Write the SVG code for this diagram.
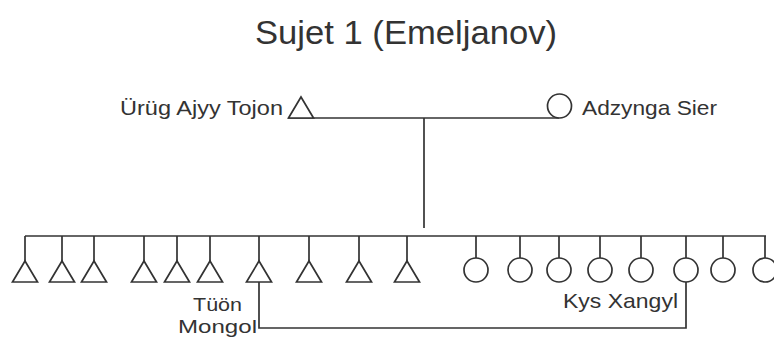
<svg xmlns="http://www.w3.org/2000/svg" width="774" height="341" viewBox="0 0 774 341">
<style>
.s{fill:none;stroke:#333;stroke-width:1.7}
.sh{fill:#fff;stroke:#333;stroke-width:1.7}
text{font-family:"Liberation Sans",Arial,sans-serif;fill:#333}
.lbl{font-size:21px}
.sm{font-size:19px}
</style>
<defs>
<path id="tri" d="M0,-21 L12.5,0 L-12.5,0 Z"/>
</defs>
<rect width="774" height="341" fill="#fff"/>
<text x="255" y="44" font-size="33" textLength="302" lengthAdjust="spacingAndGlyphs">Sujet 1 (Emeljanov)</text>
<g id="connectors" class="s">
<line x1="288" y1="118" x2="559" y2="118"/>
<line x1="424" y1="118" x2="424" y2="228"/>
<line x1="25" y1="236" x2="766" y2="236"/>
<path d="M25,236V261M62,236V261M94,236V261M144,236V261M177,236V261M210,236V261M259,236V261M309,236V261M359,236V261M407,236V261"/>
<path d="M476,236V258M520,236V258M559,236V258M600,236V258M641,236V258M686,236V258M723,236V258M765,236V258"/>
<path d="M259,282V328H686V282"/>
</g>
<g id="n_urug"><use href="#tri" x="301" y="118" class="sh"/><text class="lbl" x="120" y="115" textLength="163" lengthAdjust="spacingAndGlyphs">Ürüg Ajyy Tojon</text></g>
<g id="n_adzynga"><circle cx="559.5" cy="106" r="12" class="sh"/><text class="lbl" x="582" y="115" textLength="135" lengthAdjust="spacingAndGlyphs">Adzynga Sier</text></g>
<g id="m1"><use href="#tri" x="25" y="282" class="sh"/></g>
<g id="m2"><use href="#tri" x="62" y="282" class="sh"/></g>
<g id="m3"><use href="#tri" x="94" y="282" class="sh"/></g>
<g id="m4"><use href="#tri" x="144" y="282" class="sh"/></g>
<g id="m5"><use href="#tri" x="177" y="282" class="sh"/></g>
<g id="m6"><use href="#tri" x="210" y="282" class="sh"/></g>
<g id="m7_tuon"><use href="#tri" x="259" y="282" class="sh"/><text class="sm" x="193" y="311" textLength="49" lengthAdjust="spacingAndGlyphs">Tüön</text><text class="sm" x="178" y="333" textLength="79" lengthAdjust="spacingAndGlyphs">Mongol</text></g>
<g id="m8"><use href="#tri" x="309" y="282" class="sh"/></g>
<g id="m9"><use href="#tri" x="359" y="282" class="sh"/></g>
<g id="m10"><use href="#tri" x="407" y="282" class="sh"/></g>
<g id="f1"><circle cx="476" cy="270" r="12" class="sh"/></g>
<g id="f2"><circle cx="520" cy="270" r="12" class="sh"/></g>
<g id="f3"><circle cx="559" cy="270" r="12" class="sh"/></g>
<g id="f4"><circle cx="600" cy="270" r="12" class="sh"/></g>
<g id="f5"><circle cx="641" cy="270" r="12" class="sh"/></g>
<g id="f6_kys"><circle cx="686" cy="270" r="12" class="sh"/><text class="lbl" x="563" y="308" textLength="115" lengthAdjust="spacingAndGlyphs">Kys Xangyl</text></g>
<g id="f7"><circle cx="723" cy="270" r="12" class="sh"/></g>
<g id="f8"><circle cx="765" cy="270" r="12" class="sh"/></g>
</svg>
